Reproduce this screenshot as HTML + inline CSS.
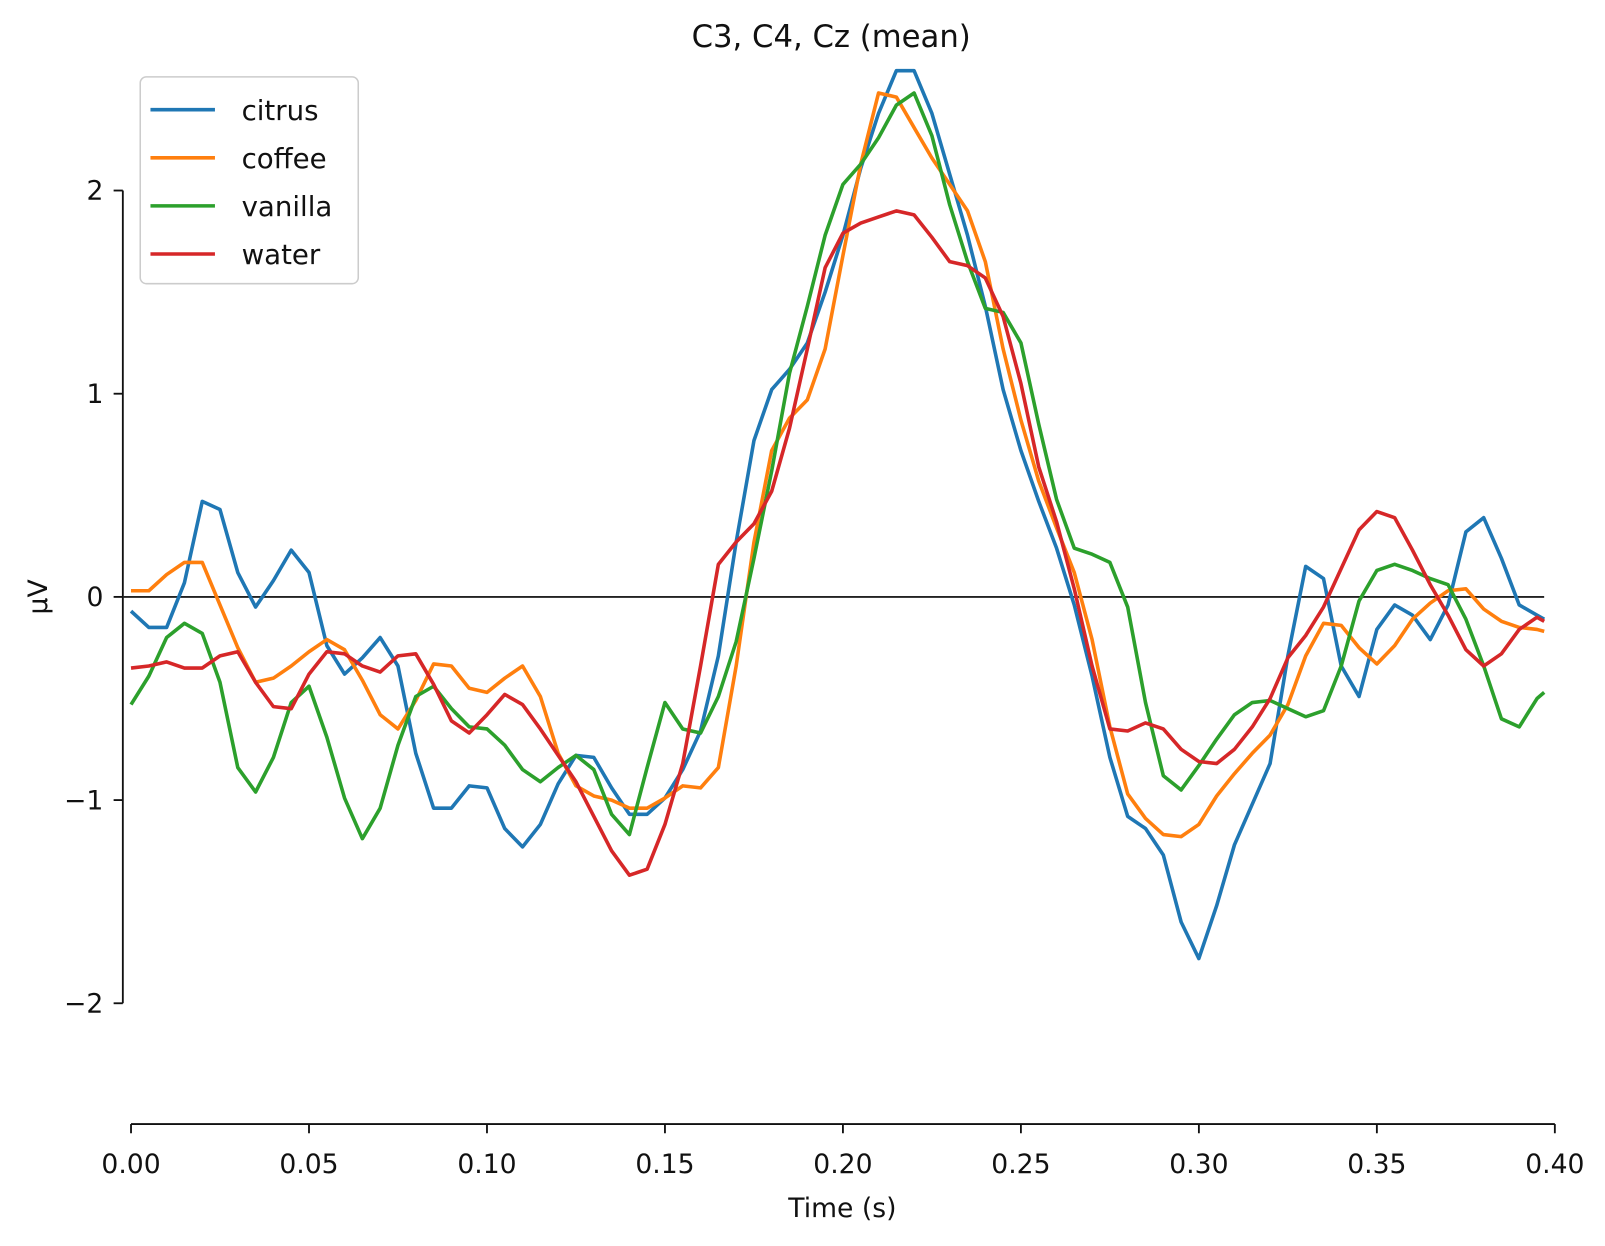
<!DOCTYPE html>
<html><head><meta charset="utf-8"><style>html,body{margin:0;padding:0;background:#fff}svg{display:block}</style></head>
<body>
<svg id="chart" width="1605" height="1246" viewBox="0 0 1568 1217" xmlns="http://www.w3.org/2000/svg" font-family="'DejaVu Sans','Liberation Sans',sans-serif">
<rect width="1568" height="1217" fill="#fff"/>
<text x="812" y="46" font-size="30" text-anchor="middle" fill="#111">C3, C4, Cz (mean)</text>
<g id="axes"></g>
<g id="series"></g>
<g>
<rect x="137" y="75" width="213" height="202" rx="6" fill="#fff" fill-opacity="0.85" stroke="#ccc" stroke-width="1.5"/>
<g><line x1="147" y1="107" x2="210" y2="107" stroke="#1f77b4" stroke-width="3.5"/><text x="236" y="117" font-size="27" fill="#111">citrus</text></g>
<g><line x1="147" y1="154" x2="210" y2="154" stroke="#ff7f0e" stroke-width="3.5"/><text x="236" y="164" font-size="27" fill="#111">coffee</text></g>
<g><line x1="147" y1="201" x2="210" y2="201" stroke="#2ca02c" stroke-width="3.5"/><text x="236" y="211" font-size="27" fill="#111">vanilla</text></g>
<g><line x1="147" y1="248" x2="210" y2="248" stroke="#d62728" stroke-width="3.5"/><text x="236" y="258" font-size="27" fill="#111">water</text></g>
</g>
</svg>
<script>
const times = [];
for (let k = 0; k < 81; k++) times.push(k === 80 ? 0.397 : k * 0.005);
const citrus = [-0.07,-0.15,-0.15,0.07,0.47,0.43,0.12,-0.05,0.08,0.23,0.12,-0.24,-0.38,-0.30,-0.20,-0.34,-0.77,-1.04,-1.04,-0.93,-0.94,-1.14,-1.23,-1.12,-0.92,-0.78,-0.79,-0.94,-1.07,-1.07,-0.99,-0.85,-0.66,-0.29,0.27,0.77,1.02,1.12,1.25,1.50,1.78,2.11,2.38,2.59,2.59,2.38,2.08,1.78,1.43,1.02,0.72,0.47,0.24,-0.04,-0.39,-0.79,-1.08,-1.14,-1.27,-1.60,-1.78,-1.52,-1.22,-1.02,-0.82,-0.29,0.15,0.09,-0.34,-0.49,-0.16,-0.04,-0.09,-0.21,-0.04,0.32,0.39,0.19,-0.04,-0.09,-0.11];
const coffee = [0.03,0.03,0.11,0.17,0.17,-0.04,-0.25,-0.42,-0.40,-0.34,-0.27,-0.21,-0.26,-0.41,-0.58,-0.65,-0.51,-0.33,-0.34,-0.45,-0.47,-0.40,-0.34,-0.49,-0.77,-0.93,-0.98,-1.00,-1.04,-1.04,-0.99,-0.93,-0.94,-0.84,-0.34,0.27,0.72,0.88,0.97,1.22,1.68,2.13,2.48,2.46,2.31,2.16,2.03,1.90,1.65,1.22,0.87,0.57,0.34,0.12,-0.21,-0.64,-0.97,-1.09,-1.17,-1.18,-1.12,-0.98,-0.87,-0.77,-0.68,-0.53,-0.29,-0.13,-0.14,-0.25,-0.33,-0.24,-0.11,-0.03,0.03,0.04,-0.06,-0.12,-0.15,-0.16,-0.17];
const vanilla = [-0.53,-0.39,-0.20,-0.13,-0.18,-0.42,-0.84,-0.96,-0.79,-0.52,-0.44,-0.69,-0.99,-1.19,-1.04,-0.73,-0.49,-0.44,-0.55,-0.64,-0.65,-0.73,-0.85,-0.91,-0.84,-0.78,-0.85,-1.07,-1.17,-0.84,-0.52,-0.65,-0.67,-0.49,-0.22,0.19,0.62,1.10,1.43,1.78,2.03,2.13,2.26,2.42,2.48,2.27,1.93,1.65,1.42,1.40,1.25,0.85,0.48,0.24,0.21,0.17,-0.05,-0.52,-0.88,-0.95,-0.83,-0.70,-0.58,-0.52,-0.51,-0.55,-0.59,-0.56,-0.34,-0.02,0.13,0.16,0.13,0.09,0.06,-0.11,-0.34,-0.60,-0.64,-0.50,-0.47];
const water = [-0.35,-0.34,-0.32,-0.35,-0.35,-0.29,-0.27,-0.42,-0.54,-0.55,-0.38,-0.27,-0.28,-0.34,-0.37,-0.29,-0.28,-0.43,-0.61,-0.67,-0.58,-0.48,-0.53,-0.65,-0.78,-0.91,-1.08,-1.25,-1.37,-1.34,-1.12,-0.82,-0.34,0.16,0.27,0.36,0.52,0.83,1.22,1.62,1.79,1.84,1.87,1.90,1.88,1.77,1.65,1.63,1.57,1.38,1.05,0.64,0.37,0.04,-0.34,-0.65,-0.66,-0.62,-0.65,-0.75,-0.81,-0.82,-0.75,-0.64,-0.50,-0.30,-0.19,-0.05,0.14,0.33,0.42,0.39,0.23,0.06,-0.09,-0.26,-0.34,-0.28,-0.16,-0.10,-0.12];
const xTicks = [0, 0.05, 0.10, 0.15, 0.20, 0.25, 0.30, 0.35, 0.40];
const xTickLabels = ["0.00","0.05","0.10","0.15","0.20","0.25","0.30","0.35","0.40"];
const yTicks = [2, 1, 0, -1, -2];
const yTickLabels = ["2","1","0","\u22121","\u22122"];

const NS = "http://www.w3.org/2000/svg";
const X0 = 128, X1 = 1519, Y0 = 583, YU = 198.5;
function xs(t) { return X0 + (t / 0.4) * (X1 - X0); }
function ys(v) { return Y0 - v * YU; }
function mk(tag, attrs, parent) {
  const e = document.createElementNS(NS, tag);
  for (const k in attrs) e.setAttribute(k, attrs[k]);
  parent.appendChild(e);
  return e;
}
const axes = document.getElementById("axes");
const ySpine = mk("line", {x1:120, y1:ys(2), x2:120, y2:ys(-2), stroke:"#111", "stroke-width":1.8}, axes);


yTicks.forEach((v, i) => {
  const t = mk("line", {x1:111, y1:ys(v), x2:120, y2:ys(v), stroke:"#111", "stroke-width":1.8}, axes);
  
  
  const l = mk("text", {x:101, y:ys(v)+9, "font-size":26, "text-anchor":"end", fill:"#111"}, axes);
  
  
  l.textContent = yTickLabels[i];
});
const yt = mk("text", {x:0, y:0, "font-size":26, "text-anchor":"middle", fill:"#111", transform:"translate(46,583) rotate(-90)"}, axes);


yt.textContent = "\u00b5V";
const xSpine = mk("line", {x1:xs(0), y1:1098, x2:xs(0.4), y2:1098, stroke:"#111", "stroke-width":1.8}, axes);


xTicks.forEach((v, i) => {
  const t = mk("line", {x1:xs(v), y1:1098, x2:xs(v), y2:1107, stroke:"#111", "stroke-width":1.8}, axes);
  
  
  const l = mk("text", {x:xs(v), y:1146, "font-size":26, "text-anchor":"middle", fill:"#111"}, axes);
  
  
  l.textContent = xTickLabels[i];
});
const xt = mk("text", {x:823, y:1189, "font-size":26, "text-anchor":"middle", fill:"#111"}, axes);


xt.textContent = "Time (s)";
const zl = mk("line", {x1:120, y1:ys(0), x2:xs(times[times.length-1]), y2:ys(0), stroke:"#222", "stroke-width":1.8}, axes);



const seriesG = document.getElementById("series");
const defs = [["citrus", citrus, "#1f77b4"], ["coffee", coffee, "#ff7f0e"], ["vanilla", vanilla, "#2ca02c"], ["water", water, "#d62728"]];
defs.forEach(([name, vals, col]) => {
  const d = vals.map((v, i) => (i ? "L" : "M") + xs(times[i]).toFixed(1) + " " + ys(v).toFixed(1)).join(" ");
  const p = mk("path", {d:d, fill:"none", stroke:col, "stroke-width":3.5, "stroke-linejoin":"round"}, seriesG);
  
  
});
</script>
</body></html>
